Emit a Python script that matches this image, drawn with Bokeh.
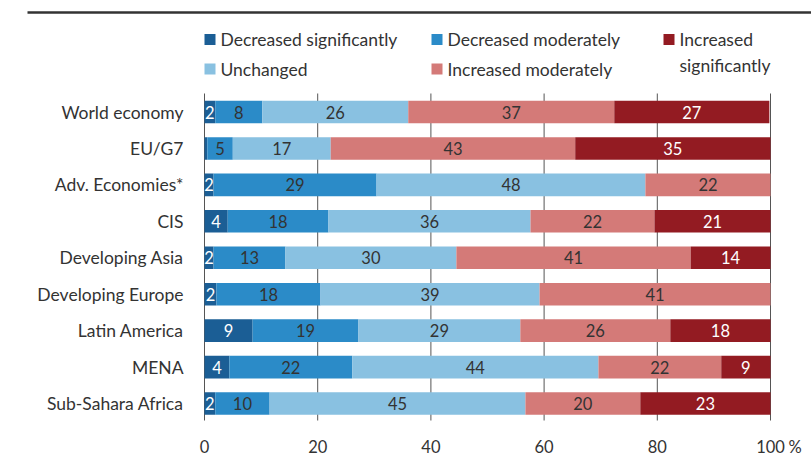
import numpy as np
from bokeh.plotting import figure
from bokeh.models import Range1d, ColumnDataSource
from bokeh.core.properties import value
from bokeh.embed import file_html
from bokeh.resources import INLINE

# ---------------- data ----------------
categories = ["World economy", "EU/G7", "Adv. Economies*", "CIS", "Developing Asia",
              "Developing Europe", "Latin America", "MENA", "Sub-Sahara Africa"]

series_names = ["Decreased significantly", "Decreased moderately", "Unchanged",
                "Increased moderately", "Increased significantly"]

dec_sig = [1.9, 0.5, 1.6, 4.1, 1.6, 2.1, 8.5, 4.4, 1.9]
dec_mod = [8.3, 4.5, 28.8, 17.8, 12.7, 18.4, 18.7, 21.7, 9.6]
unchanged = [25.8, 17.3, 47.5, 35.7, 30.2, 38.7, 28.6, 43.5, 45.2]
inc_mod = [36.4, 43.2, 22.1, 21.9, 41.4, 40.8, 26.5, 21.7, 20.3]
inc_sig = [27.4, 34.5, 0.0, 20.5, 14.1, 0.0, 17.7, 8.7, 23.0]

lab_dec_sig = ["2", "", "2", "4", "2", "2", "9", "4", "2"]
lab_dec_mod = ["8", "5", "29", "18", "13", "18", "19", "22", "10"]
lab_unchanged = ["26", "17", "48", "36", "30", "39", "29", "44", "45"]
lab_inc_mod = ["37", "43", "22", "22", "41", "41", "26", "22", "20"]
lab_inc_sig = ["27", "35", "", "21", "14", "", "18", "9", "23"]

x_ticks = [0, 20, 40, 60, 80, 100]
x_tick_labels = ["0", "20", "40", "60", "80", "100"]
x_unit = "%"

# ---------------- styles ----------------
colors = ["#1b5e95", "#2b8bc8", "#89c1e1", "#d47a78", "#931b22"]
text_colors = ["white", "#333333", "#333333", "#333333", "white"]
FONT = "Lato"
TXT = "#333333"

W, H = 811, 457
PX_PER_UNIT = 5.66        # pixels per percentage point
FRAME_X0 = 204            # pixel position of 0 %
ROW_PX = 36.44            # row spacing in px
ROW0_PX = 111.5           # pixel y of first row centre

p = figure(width=W, height=H, output_backend="svg", toolbar_location=None,
           x_axis_type=None, y_axis_type=None, min_border=0,
           x_range=Range1d(-FRAME_X0 / PX_PER_UNIT, (W - FRAME_X0) / PX_PER_UNIT),
           y_range=Range1d((H - ROW0_PX) / ROW_PX, -ROW0_PX / ROW_PX))
p.outline_line_color = None
p.background_fill_color = "white"
p.border_fill_color = "white"

def ry(px):
    return (px - ROW0_PX) / ROW_PX

def rx(px):
    return (px - FRAME_X0) / PX_PER_UNIT

rows = list(range(len(categories)))

# top rule
p.segment(x0=[rx(27)], x1=[rx(W)], y0=[ry(12)], y1=[ry(12)],
          line_color="#333333", line_width=2.5)

# grid lines
p.segment(x0=x_ticks, x1=x_ticks, y0=[ry(93)] * len(x_ticks), y1=[ry(420)] * len(x_ticks),
          line_color="#555555", line_width=1)

# stacked bars
all_vals = [dec_sig, dec_mod, unchanged, inc_mod, inc_sig]
all_labs = [lab_dec_sig, lab_dec_mod, lab_unchanged, lab_inc_mod, lab_inc_sig]
left = np.zeros(len(categories))
for vals, labs, col, tcol in zip(all_vals, all_labs, colors, text_colors):
    v = np.array(vals)
    src = ColumnDataSource(dict(y=rows, left=left, right=left + v,
                                mid=left + v / 2, lab=labs))
    p.hbar(y="y", left="left", right="right", height=0.62, source=src,
           fill_color=col, line_color=None)
    p.text(x="mid", y="y", text="lab", source=src, text_align="center",
           text_baseline="middle", text_color=tcol, text_font=value(FONT),
           text_font_size="16.5px")
    left = left + v

# category labels
p.text(x=[0] * len(categories), y=rows, text=categories, x_offset=-21,
       text_align="right", text_baseline="middle", text_color=TXT,
       text_font=value(FONT), text_font_size="17.5px")

# x tick labels
p.text(x=x_ticks, y=[ry(446)] * len(x_ticks), text=x_tick_labels,
       text_align="center", text_baseline="middle", text_color=TXT,
       text_font=value(FONT), text_font_size="16.5px")
p.text(x=[x_ticks[-1]], y=[ry(446)], text=[x_unit], x_offset=18,
       text_align="left", text_baseline="middle", text_color=TXT,
       text_font=value(FONT), text_font_size="16.5px")

# legend (manual)
leg_x = [rx(204), rx(431), rx(663), rx(204), rx(431)]
leg_y = [ry(39), ry(39), ry(39), ry(68.5), ry(68.5)]
leg_order = [0, 1, 4, 2, 3]
leg_labels = [series_names[i] for i in leg_order]
leg_labels[2] = "Increased\nsignificantly"
leg_cols = [colors[i] for i in leg_order]
sq_x = [x + 5.5 / PX_PER_UNIT for x in leg_x]
p.scatter(x=sq_x, y=leg_y, marker="square", size=11, fill_color=leg_cols, line_color=None)
single = [0, 1, 3, 4]
p.text(x=[leg_x[i] for i in single], y=[leg_y[i] for i in single],
       text=[leg_labels[i] for i in single], x_offset=16, text_align="left",
       text_baseline="middle", text_color=TXT, text_font=value(FONT),
       text_font_size="17.5px")
p.text(x=[leg_x[2]], y=[ry(28)], text=[leg_labels[2]], x_offset=16,
       text_align="left", text_baseline="top", text_color=TXT,
       text_font=value(FONT), text_font_size="17.5px", text_line_height=1.25)

open("out.html", "w").write(file_html(p, INLINE))
